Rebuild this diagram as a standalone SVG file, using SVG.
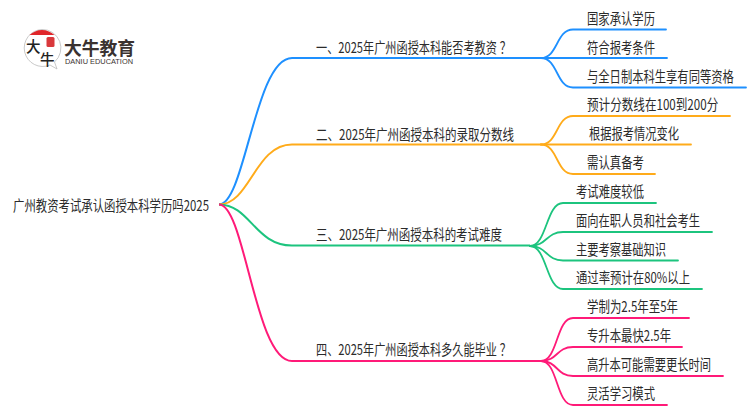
<svg xmlns="http://www.w3.org/2000/svg" width="750" height="410" viewBox="0 0 750 410">
<style>
text{font-family:"Noto Sans CJK SC","Noto Sans",sans-serif;fill:#2b2b2b;font-size:15px}
.c{fill:none;stroke-width:1.8;stroke-linecap:round}
.b{fill:none;stroke-width:2}
.bl{stroke:#1e90ff}.or{stroke:#ffab1a}.gr{stroke:#1cc47e}.pk{stroke:#ff1a78}
</style>
<rect width="750" height="410" fill="#fff"/>
<g id="connectors">
<path class="b bl" d="M219 204.500C245 204.500 255 58 292 58H541"/>
<path class="c bl" d="M541 58C558 58 556 29.500 573 29.500H666"/>
<path class="c bl" d="M541 58H667"/>
<path class="c bl" d="M541 58C558 58 556 87.500 573 87.500H746"/>
<path class="b or" d="M219 204.500C250 204.500 255 144.500 292 144.500H541"/>
<path class="c or" d="M541 144.500C558 144.500 556 116 573 116H730"/>
<path class="c or" d="M541 144.500H691"/>
<path class="c or" d="M541 144.500C558 144.500 556 174 573 174H655"/>
<path class="b gr" d="M219 204.500C250 204.500 255 245.500 292 245.500H530"/>
<path class="c gr" d="M530 246C547 246 546 203 563 203H656"/>
<path class="c gr" d="M530 246C547 246 546 232 563 232H712"/>
<path class="c gr" d="M530 246C547 246 546 260.500 563 260.500H678"/>
<path class="c gr" d="M530 246C547 246 546 289 563 289H702"/>
<path class="b pk" d="M219 204.500C245 204.500 255 361 292 361H541"/>
<path class="c pk" d="M541 361C558 361 556 318 573 318H689"/>
<path class="c pk" d="M541 361C558 361 556 347 573 347H682"/>
<path class="c pk" d="M541 361C558 361 556 376 573 376H723"/>
<path class="c pk" d="M541 361C558 361 556 405 573 405H667"/>
</g>
<g id="logo">
<path d="M42 29.500A18.500 18.500 0 1 0 50 65L57 69L54.500 62A18.500 18.500 0 0 0 42 29.500Z" fill="#fff" stroke="#bbb" stroke-width="0.8"/>
<path d="M29.500 35C33 32 37 30 42 30C47 30 51 32 54.500 35Z" fill="#e0262a"/>
<rect x="46.500" y="37" width="8" height="10" rx="1.500" fill="#d9393c"/>
<text x="26" y="52" style="font-size:14.500px;font-weight:500;fill:#222">大</text>
<text x="40" y="65" style="font-size:14.500px;font-weight:500;fill:#222">牛</text>
<text x="64" y="55" textLength="71" lengthAdjust="spacingAndGlyphs" style="font-size:18px;font-weight:700;fill:#3a3230">大牛教育</text>
<text x="65" y="63.500" textLength="68" lengthAdjust="spacingAndGlyphs" style="font-family:'Liberation Sans';font-size:8px;fill:#3a3230">DANIU EDUCATION</text>
</g>
<g id="root"><text x="13" y="211" textLength="196" lengthAdjust="spacingAndGlyphs">广州教资考试承认函授本科学历吗2025</text></g>
<g id="b1"><text x="316" y="52.500" dx="0 0 0 0 0 0 0 0 0 0 0 0 0 0 0 0 0 0 4" textLength="195" lengthAdjust="spacingAndGlyphs">一、2025年广州函授本科能否考教资？</text></g>
<g id="b2"><text x="316" y="139.500" textLength="198" lengthAdjust="spacingAndGlyphs">二、2025年广州函授本科的录取分数线</text></g>
<g id="b3"><text x="316" y="240" textLength="186" lengthAdjust="spacingAndGlyphs">三、2025年广州函授本科的考试难度</text></g>
<g id="b4"><text x="316" y="355" dx="0 0 0 0 0 0 0 0 0 0 0 0 0 0 0 0 0 0 4" textLength="195" lengthAdjust="spacingAndGlyphs">四、2025年广州函授本科多久能毕业？</text></g>
<g id="n11"><text x="587" y="24" textLength="68" lengthAdjust="spacingAndGlyphs">国家承认学历</text></g>
<g id="n12"><text x="587" y="53" textLength="68" lengthAdjust="spacingAndGlyphs">符合报考条件</text></g>
<g id="n13"><text transform="translate(587 82) scale(.754 1)">与全日制本科生享有同等资格</text></g>
<g id="n21"><text transform="translate(587 110) scale(.773 1)">预计分数线在100到200分</text></g>
<g id="n22"><text x="589" y="139" textLength="90" lengthAdjust="spacingAndGlyphs">根据报考情况变化</text></g>
<g id="n23"><text x="587" y="168" textLength="57" lengthAdjust="spacingAndGlyphs">需认真备考</text></g>
<g id="n31"><text x="576" y="197" textLength="68" lengthAdjust="spacingAndGlyphs">考试难度较低</text></g>
<g id="n32"><text x="576" y="226" textLength="124" lengthAdjust="spacingAndGlyphs">面向在职人员和社会考生</text></g>
<g id="n33"><text x="576" y="255" textLength="90" lengthAdjust="spacingAndGlyphs">主要考察基础知识</text></g>
<g id="n34"><text x="576" y="283" textLength="114" lengthAdjust="spacingAndGlyphs">通过率预计在80%以上</text></g>
<g id="n41"><text x="587" y="312" textLength="91" lengthAdjust="spacingAndGlyphs">学制为2.5年至5年</text></g>
<g id="n42"><text x="587" y="341" textLength="84" lengthAdjust="spacingAndGlyphs">专升本最快2.5年</text></g>
<g id="n43"><text transform="translate(587 370) scale(.752 1)">高升本可能需要更长时间</text></g>
<g id="n44"><text x="587" y="399" textLength="68" lengthAdjust="spacingAndGlyphs">灵活学习模式</text></g>
</svg>
